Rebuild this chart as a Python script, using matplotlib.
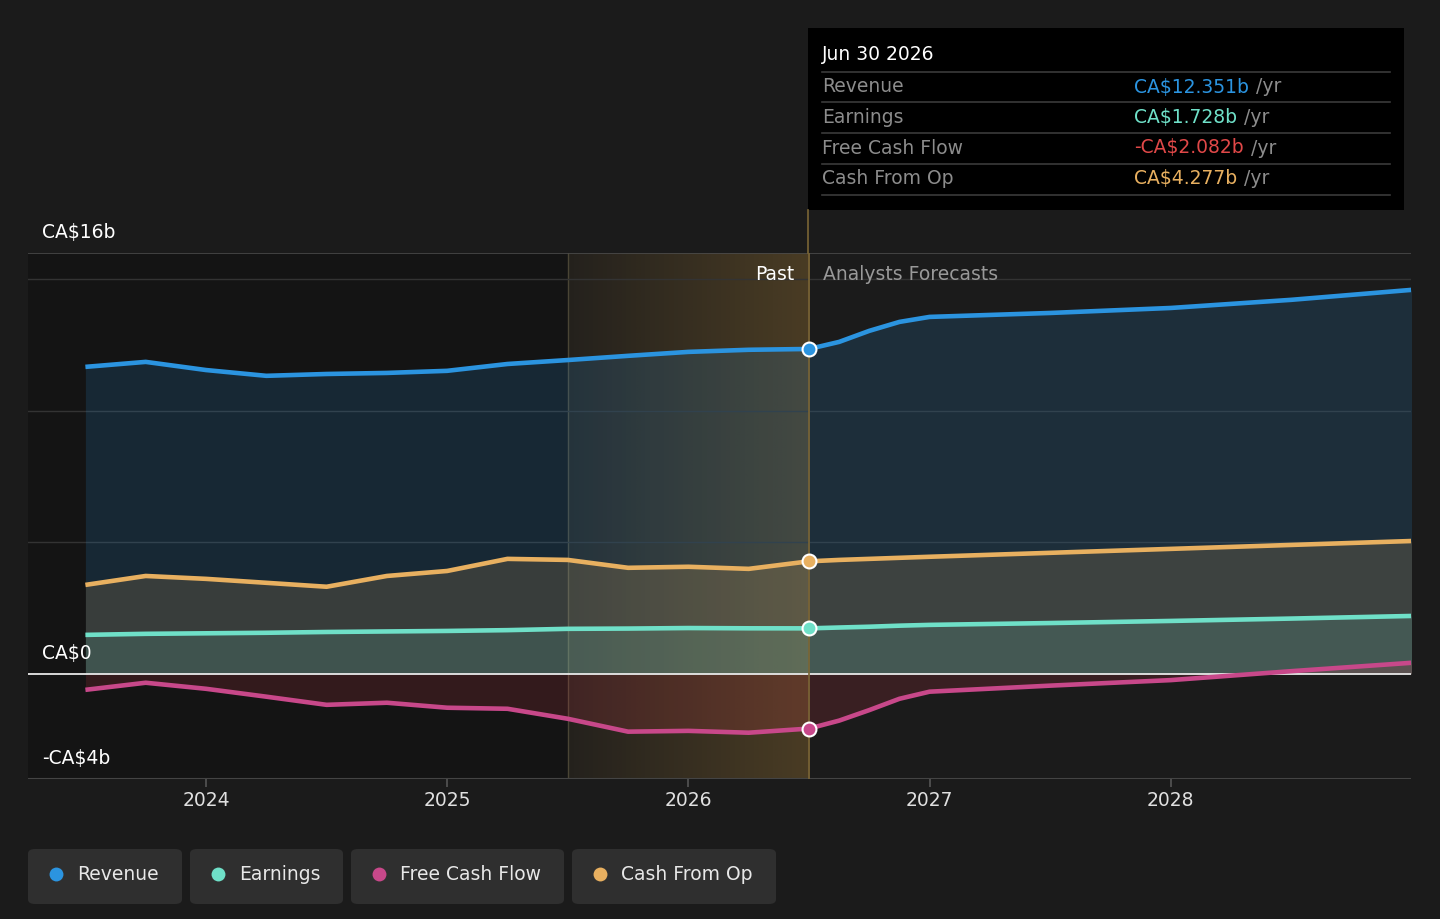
import numpy as np
import matplotlib
matplotlib.use("Agg")
import matplotlib.pyplot as plt
from matplotlib.patches import FancyBboxPatch, Rectangle
from matplotlib.lines import Line2D

plt.rcParams['font.family'] = ['DejaVu Sans']

# ---------------- data ----------------
past_t = [2023.5, 2023.75, 2024.0, 2024.25, 2024.5, 2024.75, 2025.0,
          2025.25, 2025.5, 2025.75, 2026.0, 2026.25, 2026.5]
fc_t = [2026.5, 2026.625, 2026.75, 2026.875, 2027.0, 2027.5, 2028.0, 2028.5, 2029.0]

rev_past = [11.67, 11.86, 11.55, 11.33, 11.40, 11.44, 11.52, 11.78, 11.93, 12.09, 12.24, 12.32, 12.351]
rev_fc = [12.351, 12.62, 13.04, 13.38, 13.57, 13.72, 13.91, 14.22, 14.60]

earn_past = [1.48, 1.52, 1.54, 1.56, 1.59, 1.61, 1.63, 1.66, 1.71, 1.72, 1.74, 1.73, 1.728]
earn_fc = [1.728, 1.76, 1.79, 1.83, 1.86, 1.93, 2.01, 2.10, 2.20]

fcf_past = [-0.61, -0.34, -0.57, -0.87, -1.18, -1.10, -1.29, -1.33, -1.71, -2.20, -2.17, -2.24, -2.082]
fcf_fc = [-2.082, -1.78, -1.38, -0.95, -0.68, -0.45, -0.24, 0.10, 0.42]

cfo_past = [3.38, 3.72, 3.61, 3.46, 3.31, 3.72, 3.91, 4.37, 4.33, 4.03, 4.07, 3.99, 4.277]
cfo_fc = [4.277, 4.33, 4.37, 4.41, 4.45, 4.60, 4.75, 4.90, 5.05]

series_names = ["Revenue", "Earnings", "Free Cash Flow", "Cash From Op"]
tooltip_values = ["CA$12.351b", "CA$1.728b", "-CA$2.082b", "CA$4.277b"]
year_ticks = [2024, 2025, 2026, 2027, 2028]
y_labels = {16: "CA$16b", 0: "CA$0", -4: "-CA$4b"}

# ---------------- style ----------------
BG = "#1b1b1b"
C_REV = "#2b94e0"
C_EARN = "#6fe0c8"
C_FCF = "#c8488a"
C_FCF_FILL = "#d03848"
C_CFO = "#e8b060"
C_TT_RED = "#e04848"

fig = plt.figure(figsize=(14.4, 9.19), dpi=100, facecolor=BG)
ax = fig.add_axes([28/1440, 1-779/919, 1383/1440, 526/919])
ax.set_facecolor(BG)
x0 = 2024 - 178/241.2
x1 = 2024 + 1205/241.2
ax.set_xlim(x0, x1)
ax.set_ylim(-4, 16)
for s in ax.spines.values():
    s.set_visible(False)

# dark past region
ax.add_patch(Rectangle((x0, -4), 2025.5 - x0, 20, facecolor="#141414", edgecolor="none", zorder=0))
# gold gradient highlight
grad = np.zeros((2, 256, 4))
grad[..., 0] = 0xd8/255
grad[..., 1] = 0xa0/255
grad[..., 2] = 0x40/255
grad[..., 3] = np.linspace(0.05, 0.25, 256)[None, :]
ax.imshow(grad, extent=[2025.5, 2026.5, -4, 16], aspect="auto", zorder=0.5, interpolation="bilinear")
ax.axvline(2025.5, color="#4a4535", lw=1, zorder=0.6)

# grid
for g in [5, 10, 15]:
    ax.axhline(g, color="#333333", lw=1, zorder=0.7)
ax.axhline(16, color="#4a4a4a", lw=1.2, zorder=0.7)
ax.axhline(-4, color="#444444", lw=1.5, zorder=0.7)

t_all = past_t + fc_t[1:]
rev = rev_past + rev_fc[1:]
earn = earn_past + earn_fc[1:]
fcf = fcf_past + fcf_fc[1:]
cfo = cfo_past + cfo_fc[1:]

ax.fill_between(t_all, 0, rev, color=C_REV, alpha=0.16, lw=0, zorder=1)
ax.fill_between(t_all, 0, cfo, color=C_CFO, alpha=0.16, lw=0, zorder=1.1)
ax.fill_between(t_all, 0, earn, color=C_EARN, alpha=0.14, lw=0, zorder=1.2)
ax.fill_between(t_all, 0, fcf, color=C_FCF_FILL, alpha=0.17, lw=0, zorder=1.3)

ax.axhline(0, color="#e8e8e8", lw=1.3, zorder=2)

for vals, c in [(rev, C_REV), (cfo, C_CFO), (earn, C_EARN), (fcf, C_FCF)]:
    ax.plot(t_all, vals, color=c, lw=3.3, solid_capstyle="butt", solid_joinstyle="round", zorder=3)
    ax.plot([2026.5], [vals[len(past_t)-1]], marker="o", ms=10, mfc=c, mec="white", mew=1.5, zorder=5)

# vertical divider line at tooltip date
ax.plot([2026.5, 2026.5], [-4, 16], color="#7a6535", lw=1.2, zorder=2.5)

# ticks
ax.set_yticks([])
ax.set_xticks(year_ticks)
ax.set_xticklabels([str(y) for y in year_ticks], color="#e0e0e0", fontsize=13.5)
ax.tick_params(axis="x", length=6, color="#555555", width=1.2, pad=3)

for v, lab in y_labels.items():
    ax.text(42/1440, 1 - (674 - v*26.31 - 15)/919, lab, transform=fig.transFigure,
            color="white", fontsize=13.5, va="baseline", ha="left")

ax.text(2026.5 - 15/241.2, 15.2, "Past", color="white", fontsize=13.5, ha="right", va="center")
ax.text(2026.5 + 14/241.2, 15.2, "Analysts Forecasts", color="#999999", fontsize=13.5, ha="left", va="center")

# tooltip
def fx(px): return px/1440
def fy(py): return 1 - py/919
fig.patches.append(Rectangle((fx(808), fy(210)), fx(1404)-fx(808), fy(28)-fy(210),
                             transform=fig.transFigure, facecolor="black", edgecolor="none", zorder=10))
fig.lines.append(Line2D([fx(808), fx(808)], [fy(253), fy(210)], transform=fig.transFigure,
                        color="#7a6535", lw=1.2, zorder=11))
fig.text(fx(822), fy(55), "Jun 30 2026", color="white", fontsize=13.5, va="center", zorder=12)
row_lines = [72, 102, 133, 164, 195]
for py in row_lines:
    fig.lines.append(Line2D([fx(822), fx(1390)], [fy(py), fy(py)], transform=fig.transFigure,
                            color="#3a3a3a", lw=1.2, zorder=11))
tt_colors = [C_REV, C_EARN, C_TT_RED, C_CFO]
fig.canvas.draw()
r = fig.canvas.get_renderer()
for i, (name, val, c) in enumerate(zip(series_names, tooltip_values, tt_colors)):
    yc = fy(87 + i*30.5)
    fig.text(fx(822), yc, name, color="#8c8c8c", fontsize=13.5, va="center", zorder=12)
    t = fig.text(fx(1134), yc, val, color=c, fontsize=13.5, va="center", zorder=12)
    bb = t.get_window_extent(renderer=r)
    fig.text((bb.x1 + 7)/1440, yc, "/yr", color="#8c8c8c", fontsize=13.5, va="center", zorder=12)

# legend
leg_boxes = [(28, 182), (190, 343), (351, 564), (572, 776)]
leg_colors = [C_REV, C_EARN, C_FCF, C_CFO]
for (l, r_), name, c in zip(leg_boxes, series_names, leg_colors):
    fig.patches.append(FancyBboxPatch((fx(l), fy(904)), fx(r_)-fx(l), fy(849)-fy(904),
                                      boxstyle="round,pad=0,rounding_size=0.005",
                                      transform=fig.transFigure, facecolor="#2f2f2f",
                                      edgecolor="none", zorder=10))
    fig.lines.append(Line2D([fx(l+28)], [fy(874)], transform=fig.transFigure, marker="o",
                            ms=10, mfc=c, mec="none", zorder=11))
    fig.text(fx(l+49), fy(874), name, color="#e8e8e8", fontsize=13.5, va="center", zorder=12)

fig.savefig("out.png", dpi=100, facecolor=BG)
